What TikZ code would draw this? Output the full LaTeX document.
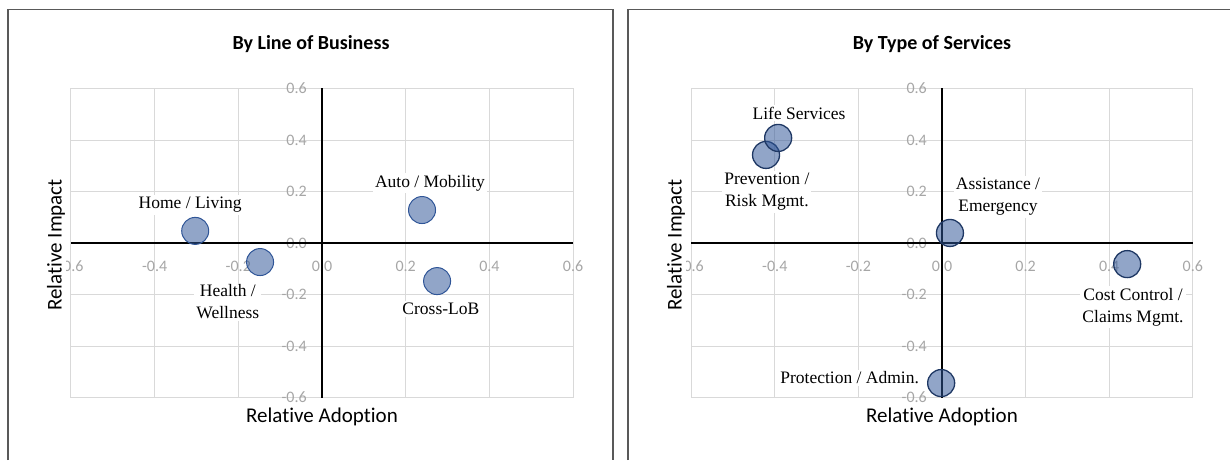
\documentclass[tikz,border=0pt]{standalone}
\usepackage{fontspec}
\setmainfont{Liberation Serif}
\newfontfamily\calfont[Ligatures=NoCommon]{Carlito}
\usepackage{tikz}
\usetikzlibrary{positioning}

\definecolor{gridgray}{RGB}{217,217,217}
\definecolor{tickgray}{RGB}{166,166,166}
\definecolor{framegray}{RGB}{89,89,89}
\definecolor{bubblue}{RGB}{47,85,151}
\definecolor{bubnavy}{RGB}{31,56,100}

\begin{document}
\begin{tikzpicture}[x=1pt,y=1pt,
        gridln/.style={draw=gridgray,line width=0.8pt},
        axisln/.style={draw=black,line width=1.8pt},
        frameln/.style={draw=framegray,line width=1.2pt},
        ticklbl/.style={font=\calfont\fontsize{16}{16}\selectfont,text=tickgray,inner sep=0pt},
        axtitle/.style={font=\calfont\fontsize{21}{25}\selectfont,fill=white,inner sep=1pt},
        ctitle/.style={font=\calfont\bfseries\fontsize{20}{24}\selectfont},
        bubL/.style={circle,minimum size=27pt,inner sep=0pt,draw=bubblue,line width=1pt,fill=bubblue,fill opacity=0.53,draw opacity=1},
        bubR/.style={bubL,draw=bubnavy,line width=1.3pt},
        lbl/.style={fill=white,font=\fontsize{17.5}{22}\selectfont,align=center,inner sep=2pt}]
        \useasboundingbox (0,0) rectangle (1230,460);

        % panel frames
        \draw[frameln] (8,0) -- (8,450.5) -- (613,450.5) -- (613,0);
        \draw[frameln] (628,0) -- (628,450.5) -- (1230,450.5);

        % chart titles
        \node[ctitle] (TL) at (311,416) {By Line of Business};
        \node[ctitle] (TR) at (932,416) {By Type of Services};

        % left chart
        \begin{scope}[shift={(322,217)},x=418.5pt,y=257.5pt]
                \foreach \v in {-0.4,-0.2,0.2,0.4} {
                        \draw[gridln] (\v,-0.6) -- (\v,0.6);
                        \draw[gridln] (-0.6,\v) -- (0.6,\v);
                }
                \draw[gridln] (-0.6,-0.6) rectangle (0.6,0.6);
                \foreach \v [count=\i] in {-0.6,-0.4,-0.2,0.0,0.2,0.4,0.6} {
                        \node[ticklbl] (xL\i) at (\v,-0.089) {\v};
                        \node[ticklbl,anchor=east] (yL\i) at (-0.036,\v) {\v};
                }
                \draw[axisln] (-0.6,0) -- (0.6,0);
                \draw[axisln] (0,-0.6) -- (0,0.6);

                \node[bubL] (HL) at (-0.303,0.047) {};
                \node[bubL] (HW) at (-0.148,-0.074) {};
                \node[bubL] (AM) at (0.239,0.128) {};
                \node[bubL] (CL) at (0.275,-0.148) {};

                \node[lbl] (HLt) at (-0.315,0.148) {Home / Living};
                \node[lbl] (HWt) at (-0.225,-0.229) {Health /\\Wellness};
                \node[lbl] (AMt) at (0.258,0.233) {Auto / Mobility};
                \node[lbl] (CLt) at (0.284,-0.256) {Cross-LoB};
        \end{scope}

        % right chart
        \begin{scope}[shift={(942,217)},x=418pt,y=257.5pt]
                \foreach \v in {-0.4,-0.2,0.2,0.4} {
                        \draw[gridln] (\v,-0.6) -- (\v,0.6);
                        \draw[gridln] (-0.6,\v) -- (0.6,\v);
                }
                \draw[gridln] (-0.6,-0.6) rectangle (0.6,0.6);
                \foreach \v [count=\i] in {-0.6,-0.4,-0.2,0.0,0.2,0.4,0.6} {
                        \node[ticklbl] (xR\i) at (\v,-0.089) {\v};
                        \node[ticklbl,anchor=east] (yR\i) at (-0.036,\v) {\v};
                }
                \draw[axisln] (-0.6,0) -- (0.6,0);
                \draw[axisln] (0,-0.6) -- (0,0.6);

                \node[bubR] (PR) at (-0.421,0.342) {};
                \node[bubR] (LS) at (-0.392,0.408) {};
                \node[bubR] (AE) at (0.019,0.039) {};
                \node[bubR] (CC) at (0.443,-0.082) {};
                \node[bubR] (PA) at (-0.002,-0.544) {};

                \node[lbl] (LSt) at (-0.342,0.505) {Life Services};
                \node[lbl] (PRt) at (-0.419,0.198) {Prevention /\\Risk Mgmt.};
                \node[lbl] (AEt) at (0.134,0.179) {Assistance /\\Emergency};
                \node[lbl] (CCt) at (0.457,-0.249) {Cost Control /\\Claims Mgmt.};
                \node[lbl,anchor=east] (PAt) at (-0.050,-0.524) {Protection / Admin.};
        \end{scope}

        % axis titles
        \node[axtitle,rotate=90] (YTL) at (56,215) {Relative Impact};
        \node[axtitle] (XTL) at (322,43) {Relative Adoption};
        \node[axtitle,rotate=90] (YTR) at (676,215) {Relative Impact};
        \node[axtitle] (XTR) at (942,43) {Relative Adoption};
\end{tikzpicture}
\end{document}
